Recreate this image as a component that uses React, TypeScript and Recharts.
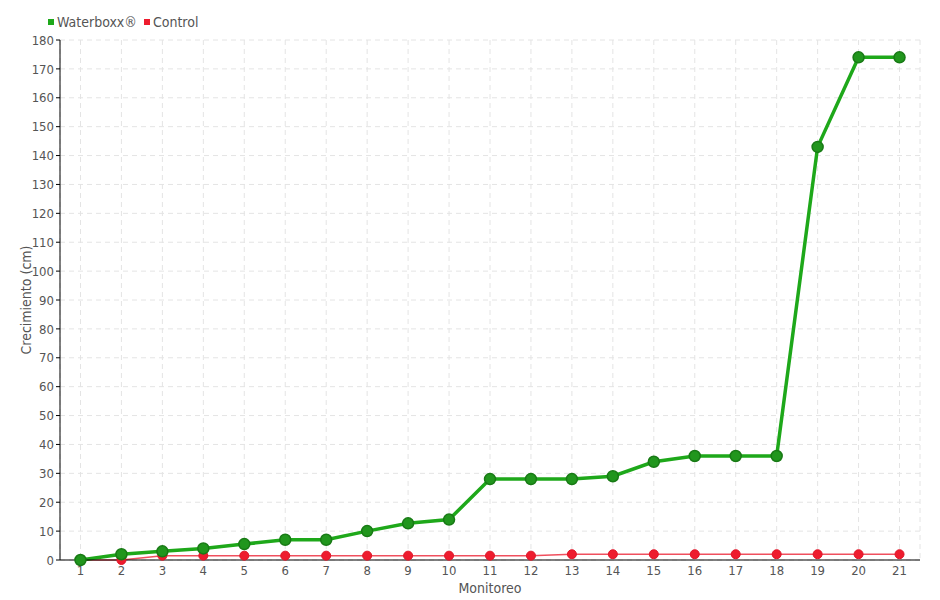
import React from 'react';
import { LineChart, Line, XAxis, YAxis, CartesianGrid, Legend } from 'recharts';

const monitoreo = ['1', '2', '3', '4', '5', '6', '7', '8', '9', '10', '11', '12', '13', '14', '15', '16', '17', '18', '19', '20', '21'];
const waterboxx = [0, 2, 3, 4, 5.5, 7, 7, 10, 12.7, 14, 28, 28, 28, 29, 34, 36, 36, 36, 143, 174, 174];
const control = [0, 0, 1.5, 1.5, 1.5, 1.5, 1.5, 1.5, 1.5, 1.5, 1.5, 1.5, 2, 2, 2, 2, 2, 2, 2, 2, 2];
const yTicks = [0, 10, 20, 30, 40, 50, 60, 70, 80, 90, 100, 110, 120, 130, 140, 150, 160, 170, 180];

const data = monitoreo.map((m, i) => ({ name: m, waterboxx: waterboxx[i], control: control[i] }));

const font = '"Liberation Sans Narrow", "DejaVu Sans Condensed", sans-serif';
const textColor = '#555';

const legendItems = [
  { label: 'Waterboxx®', color: '#1ea81a' },
  { label: 'Control', color: '#ee1c2e' },
];

const LegendContent = () => (
  <div style={{ display: 'flex', fontFamily: font, fontSize: 14, color: textColor }}>
    {legendItems.map((it) => (
      <div key={it.label} style={{ display: 'flex', alignItems: 'center', marginRight: 7 }}>
        <span style={{ width: 6, height: 6, background: it.color, display: 'inline-block', marginRight: 3 }} />
        {it.label}
      </div>
    ))}
  </div>
);

const App = () => {
  return (
    <div style={{ position: 'absolute', left: 0, top: 0, width: 940, height: 600, background: '#fff' }}>
      <LineChart width={940} height={600} data={data} margin={{ top: 40, right: 20, bottom: 10, left: 0 }}>
        <CartesianGrid stroke="#e4e4e4" strokeDasharray="5 4" />
        <XAxis
          dataKey="name"
          scale="band"
          height={30}
          stroke="#000"
          tickLine={false}
          tick={{ fill: textColor, fontSize: 13, fontFamily: font }}
          tickMargin={0}
          interval={0}
          label={{ value: 'Monitoreo', position: 'insideBottom', offset: -3, fill: textColor, fontSize: 14, fontFamily: font }}
        />
        <YAxis
          domain={[0, 180]}
          ticks={yTicks}
          interval={0}
          width={60}
          stroke="#000"
          tickSize={4}
          tick={{ fill: textColor, fontSize: 13, fontFamily: font }}
          label={{ value: 'Crecimiento (cm)', angle: -90, position: 'insideLeft', offset: 26, fill: textColor, fontSize: 14, fontFamily: font, style: { textAnchor: 'middle' } }}
        />
        <Legend
          layout="horizontal"
          verticalAlign="middle"
          align="center"
          content={<LegendContent />}
          wrapperStyle={{ position: 'absolute', top: 14, left: 48, width: 'auto' }}
        />
        <Line
          type="linear"
          dataKey="control"
          stroke="#f0505e"
          strokeWidth={1.5}
          dot={{ r: 4.5, fill: '#ee1c2e', stroke: '#e01528', strokeWidth: 1 }}
          isAnimationActive={false}
        />
        <Line
          type="linear"
          dataKey="waterboxx"
          stroke="#1ea81a"
          strokeWidth={3.5}
          dot={{ r: 5.5, fill: '#21961d', stroke: '#187a15', strokeWidth: 1.5 }}
          isAnimationActive={false}
        />
      </LineChart>
    </div>
  );
};

export default App;
